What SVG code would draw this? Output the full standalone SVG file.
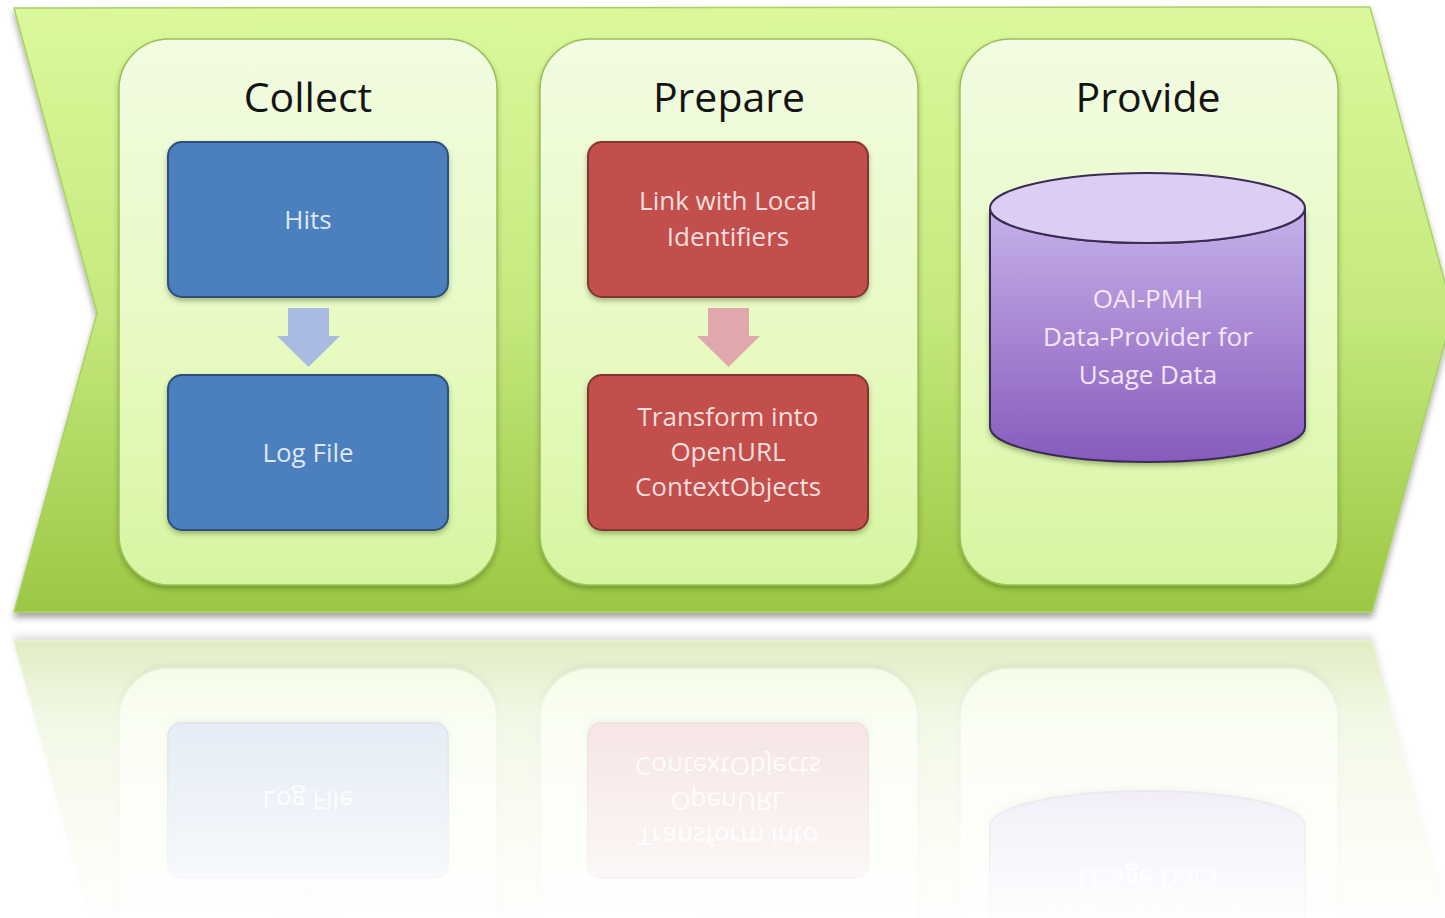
<svg xmlns="http://www.w3.org/2000/svg" xmlns:xlink="http://www.w3.org/1999/xlink" width="1445" height="918" viewBox="0 0 1445 918">
<style>
.title{font-family:"Open Sans","Liberation Sans",sans-serif;font-size:41px;fill:#141414;text-anchor:middle}
.lbl{font-family:"Open Sans","Liberation Sans",sans-serif;font-size:26px;text-anchor:middle}
.panel{fill:url(#gPanel);stroke:#9dbf5a;stroke-width:1.5;filter:url(#sh)}
.blue{fill:#4b7fbd;stroke:#2d4f7a;stroke-width:2;filter:url(#sh)}
.red{fill:#c24f4c;stroke:#843533;stroke-width:2;filter:url(#sh)}
</style>
<defs>
<linearGradient id="gChev" x1="0" y1="0" x2="0" y2="1">
<stop offset="0" stop-color="#dbf99c"/>
<stop offset="0.5" stop-color="#c5e97e"/>
<stop offset="1" stop-color="#9cc743"/>
</linearGradient>
<linearGradient id="gPanel" x1="0" y1="0" x2="0" y2="1">
<stop offset="0" stop-color="#f2fce2"/>
<stop offset="0.6" stop-color="#e6fabf"/>
<stop offset="1" stop-color="#d6f5a0"/>
</linearGradient>
<linearGradient id="gCyl" gradientUnits="userSpaceOnUse" x1="0" y1="208" x2="0" y2="462">
<stop offset="0" stop-color="#c6b1e8"/>
<stop offset="1" stop-color="#875bbd"/>
</linearGradient>
<linearGradient id="gFade" gradientUnits="userSpaceOnUse" x1="0" y1="630" x2="0" y2="918">
<stop offset="0" stop-color="#fff" stop-opacity="0.34"/>
<stop offset="0.3" stop-color="#fff" stop-opacity="0.15"/>
<stop offset="1" stop-color="#fff" stop-opacity="0.02"/>
</linearGradient>
<mask id="fade" maskUnits="userSpaceOnUse" x="0" y="626" width="1445" height="292">
<rect x="0" y="626" width="1445" height="292" fill="url(#gFade)"/>
</mask>
<filter id="sh" x="-10%" y="-10%" width="120%" height="125%">
<feDropShadow dx="0" dy="3" stdDeviation="2.5" flood-color="#2a3a10" flood-opacity="0.35"/>
</filter>
<filter id="shC" x="-5%" y="-5%" width="110%" height="115%">
<feDropShadow dx="0" dy="5" stdDeviation="3" flood-color="#000" flood-opacity="0.35"/>
</filter>
</defs>
<rect width="1445" height="918" fill="#ffffff"/>
<g id="main">
<path id="chevron" d="M14,8 L1370,7 L1453,312 L1372,612 L14,612 L97,313 Z" fill="url(#gChev)" stroke="#a9d160" stroke-width="1.5" filter="url(#shC)"/>
<g id="collect">
<rect class="panel" x="119" y="39" width="378" height="546" rx="50"/>
<text class="title" x="308" y="112">Collect</text>
</g>
<g id="prepare">
<rect class="panel" x="540" y="39" width="378" height="546" rx="50"/>
<text class="title" x="729" y="112">Prepare</text>
</g>
<g id="provide">
<rect class="panel" x="960" y="39" width="378" height="546" rx="50"/>
<text class="title" x="1148" y="112">Provide</text>
</g>
<g id="connectors">
<path d="M288,308 H329 V336 H340 L308.5,367 L277,336 H288 Z" fill="#a9bbe2"/>
<path d="M708,308 H749 V336 H760 L728.5,367 L697,336 H708 Z" fill="#e0a8ac"/>
</g>
<g id="hits">
<rect class="blue" x="168" y="142" width="280" height="155" rx="14"/>
<text class="lbl" x="308" y="229" fill="#dfe7f6">Hits</text>
</g>
<g id="logfile">
<rect class="blue" x="168" y="375" width="280" height="155" rx="14"/>
<text class="lbl" x="308" y="462" fill="#dfe7f6">Log File</text>
</g>
<g id="link">
<rect class="red" x="588" y="142" width="280" height="155" rx="14"/>
<text class="lbl" x="728" y="210" fill="#f8dede">Link with Local</text>
<text class="lbl" x="728" y="246" fill="#f8dede">Identifiers</text>
</g>
<g id="transform">
<rect class="red" x="588" y="375" width="280" height="155" rx="14"/>
<text class="lbl" x="728" y="426" fill="#f8dede">Transform into</text>
<text class="lbl" x="728" y="461" fill="#f8dede">OpenURL</text>
<text class="lbl" x="728" y="496" fill="#f8dede">ContextObjects</text>
</g>
<g id="oaipmh">
<path d="M990,208 V427 A157.5,35 0 0 0 1305,427 V208 A157.5,35 0 0 1 990,208 Z" fill="url(#gCyl)" stroke="#3a2c55" stroke-width="2" filter="url(#sh)"/>
<ellipse cx="1147.5" cy="208" rx="157.5" ry="35" fill="#dccef2" stroke="#3a2c55" stroke-width="2"/>
<text class="lbl" x="1148" y="308" fill="#f3e6fa">OAI-PMH</text>
<text class="lbl" x="1148" y="346" fill="#f3e6fa">Data-Provider for</text>
<text class="lbl" x="1148" y="384" fill="#f3e6fa">Usage Data</text>
</g>
</g>
<g id="reflection" mask="url(#fade)">
<use xlink:href="#main" href="#main" transform="translate(0,1253) scale(1,-1)"/>
</g>
</svg>
